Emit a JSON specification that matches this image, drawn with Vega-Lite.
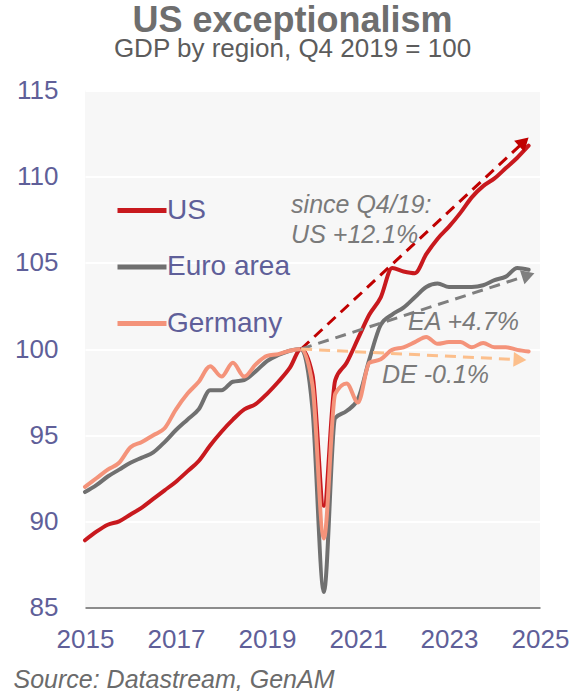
{
  "$schema": "https://vega.github.io/schema/vega-lite/v6.json",
  "width": 455,
  "height": 517,
  "autosize": {"type": "none"},
  "padding": {"left": 85, "top": 90.5, "right": 31, "bottom": 83.5},
  "background": "white",
  "title": {
    "text": "US exceptionalism",
    "subtitle": "GDP by region, Q4 2019 = 100",
    "anchor": "middle",
    "frame": "group",
    "dx": -20,
    "offset": 15,
    "font": "Liberation Sans",
    "fontSize": 36,
    "fontWeight": "bold",
    "color": "#6e6e6e",
    "subtitleFont": "Liberation Sans",
    "subtitleFontSize": 26,
    "subtitleColor": "#5c5c5c",
    "subtitlePadding": -4
  },
  "config": {"view": {"fill": "#f7f7f7", "stroke": null}, "font": "Liberation Sans"},
  "datasets": {
    "gdp": [
      {"series":"US","year":2015.0,"value":88.9},{"series":"US","year":2015.25,"value":89.4},{"series":"US","year":2015.5,"value":89.8},{"series":"US","year":2015.75,"value":90.0},
      {"series":"US","year":2016.0,"value":90.4},{"series":"US","year":2016.25,"value":90.8},{"series":"US","year":2016.5,"value":91.3},{"series":"US","year":2016.75,"value":91.8},
      {"series":"US","year":2017.0,"value":92.3},{"series":"US","year":2017.25,"value":92.9},{"series":"US","year":2017.5,"value":93.5},{"series":"US","year":2017.75,"value":94.4},
      {"series":"US","year":2018.0,"value":95.2},{"series":"US","year":2018.25,"value":95.9},{"series":"US","year":2018.5,"value":96.5},{"series":"US","year":2018.75,"value":96.8},
      {"series":"US","year":2019.0,"value":97.4},{"series":"US","year":2019.25,"value":98.1},{"series":"US","year":2019.5,"value":98.9},{"series":"US","year":2019.75,"value":100.0},
      {"series":"US","year":2020.0,"value":98.5},{"series":"US","year":2020.25,"value":90.9},{"series":"US","year":2020.5,"value":98.2},{"series":"US","year":2020.75,"value":99.2},
      {"series":"US","year":2021.0,"value":100.6},{"series":"US","year":2021.25,"value":102.0},{"series":"US","year":2021.5,"value":103.0},{"series":"US","year":2021.75,"value":104.7},
      {"series":"US","year":2022.0,"value":104.5},{"series":"US","year":2022.25,"value":104.4},{"series":"US","year":2022.5,"value":105.5},{"series":"US","year":2022.75,"value":106.4},
      {"series":"US","year":2023.0,"value":107.1},{"series":"US","year":2023.25,"value":107.9},{"series":"US","year":2023.5,"value":108.8},{"series":"US","year":2023.75,"value":109.45},
      {"series":"US","year":2024.0,"value":109.9},{"series":"US","year":2024.25,"value":110.5},{"series":"US","year":2024.5,"value":111.1},{"series":"US","year":2024.75,"value":111.8},
      {"series":"Euro area","year":2015.0,"value":91.7},{"series":"Euro area","year":2015.25,"value":92.1},{"series":"Euro area","year":2015.5,"value":92.6},{"series":"Euro area","year":2015.75,"value":93.0},
      {"series":"Euro area","year":2016.0,"value":93.4},{"series":"Euro area","year":2016.25,"value":93.7},{"series":"Euro area","year":2016.5,"value":94.0},{"series":"Euro area","year":2016.75,"value":94.6},
      {"series":"Euro area","year":2017.0,"value":95.3},{"series":"Euro area","year":2017.25,"value":95.9},{"series":"Euro area","year":2017.5,"value":96.5},{"series":"Euro area","year":2017.75,"value":97.6},
      {"series":"Euro area","year":2018.0,"value":97.6},{"series":"Euro area","year":2018.25,"value":98.1},{"series":"Euro area","year":2018.5,"value":98.2},{"series":"Euro area","year":2018.75,"value":98.7},
      {"series":"Euro area","year":2019.0,"value":99.3},{"series":"Euro area","year":2019.25,"value":99.65},{"series":"Euro area","year":2019.5,"value":99.9},{"series":"Euro area","year":2019.75,"value":100.0},
      {"series":"Euro area","year":2020.0,"value":96.5},{"series":"Euro area","year":2020.25,"value":85.9},{"series":"Euro area","year":2020.5,"value":96.0},{"series":"Euro area","year":2020.75,"value":96.4},
      {"series":"Euro area","year":2021.0,"value":97.1},{"series":"Euro area","year":2021.25,"value":99.4},{"series":"Euro area","year":2021.5,"value":101.4},{"series":"Euro area","year":2021.75,"value":102.0},
      {"series":"Euro area","year":2022.0,"value":102.4},{"series":"Euro area","year":2022.25,"value":103.0},{"series":"Euro area","year":2022.5,"value":103.6},{"series":"Euro area","year":2022.75,"value":103.8},
      {"series":"Euro area","year":2023.0,"value":103.6},{"series":"Euro area","year":2023.25,"value":103.6},{"series":"Euro area","year":2023.5,"value":103.6},{"series":"Euro area","year":2023.75,"value":103.7},
      {"series":"Euro area","year":2024.0,"value":104.0},{"series":"Euro area","year":2024.25,"value":104.2},{"series":"Euro area","year":2024.5,"value":104.7},{"series":"Euro area","year":2024.75,"value":104.6},
      {"series":"Germany","year":2015.0,"value":92.0},{"series":"Germany","year":2015.25,"value":92.5},{"series":"Germany","year":2015.5,"value":93.0},{"series":"Germany","year":2015.75,"value":93.4},
      {"series":"Germany","year":2016.0,"value":94.3},{"series":"Germany","year":2016.25,"value":94.6},{"series":"Germany","year":2016.5,"value":95.0},{"series":"Germany","year":2016.75,"value":95.4},
      {"series":"Germany","year":2017.0,"value":96.5},{"series":"Germany","year":2017.25,"value":97.4},{"series":"Germany","year":2017.5,"value":98.1},{"series":"Germany","year":2017.75,"value":99.0},
      {"series":"Germany","year":2018.0,"value":98.4},{"series":"Germany","year":2018.25,"value":99.2},{"series":"Germany","year":2018.5,"value":98.4},{"series":"Germany","year":2018.75,"value":99.1},
      {"series":"Germany","year":2019.0,"value":99.6},{"series":"Germany","year":2019.25,"value":99.7},{"series":"Germany","year":2019.5,"value":99.9},{"series":"Germany","year":2019.75,"value":100.0},
      {"series":"Germany","year":2020.0,"value":97.9},{"series":"Germany","year":2020.25,"value":89.0},{"series":"Germany","year":2020.5,"value":97.4},{"series":"Germany","year":2020.75,"value":98.0},
      {"series":"Germany","year":2021.0,"value":96.9},{"series":"Germany","year":2021.25,"value":99.2},{"series":"Germany","year":2021.5,"value":99.4},{"series":"Germany","year":2021.75,"value":99.95},
      {"series":"Germany","year":2022.0,"value":100.1},{"series":"Germany","year":2022.25,"value":100.4},{"series":"Germany","year":2022.5,"value":100.7},{"series":"Germany","year":2022.75,"value":100.3},
      {"series":"Germany","year":2023.0,"value":100.4},{"series":"Germany","year":2023.25,"value":100.4},{"series":"Germany","year":2023.5,"value":100.1},{"series":"Germany","year":2023.75,"value":100.35},
      {"series":"Germany","year":2024.0,"value":100.1},{"series":"Germany","year":2024.25,"value":100.1},{"series":"Germany","year":2024.5,"value":99.95},{"series":"Germany","year":2024.75,"value":99.85}
    ],
    "arrows": [
      {"series":"US","year":2019.75,"value":100,"year2":2024.646,"value2":112.02},
      {"series":"Euro area","year":2019.75,"value":100,"year2":2024.743,"value2":104.28},
      {"series":"Germany","year":2019.75,"value":100,"year2":2024.56,"value2":99.38}
    ],
    "heads": [
      {"series":"US","year":2024.646,"value":112.02},
      {"series":"Euro area","year":2024.743,"value":104.28},
      {"series":"Germany","year":2024.56,"value":99.38}
    ],
    "notes": [
      {"label":"since Q4/19:","year":2019.53,"value":107.9},
      {"label":"US +12.1%","year":2019.53,"value":106.15},
      {"label":"EA +4.7%","year":2022.1,"value":101.1},
      {"label":"DE -0.1%","year":2021.53,"value":98.0}
    ]
  },
  "encoding": {
    "x": {
      "field": "year",
      "type": "quantitative",
      "scale": {"domain": [2015, 2025], "nice": false, "zero": false},
      "axis": {
        "values": [2015, 2017, 2019, 2021, 2023, 2025],
        "format": "d",
        "grid": false,
        "ticks": false,
        "domain": true,
        "domainColor": "#8c8c8c",
        "domainWidth": 2,
        "labelFont": "Liberation Sans",
        "labelFontSize": 26,
        "labelColor": "#5f5f99",
        "labelPadding": 19,
        "labelFlush": false,
        "labelOverlap": false,
        "title": "Source: Datastream, GenAM",
        "titleFont": "Liberation Sans",
        "titleFontSize": 25,
        "titleFontStyle": "italic",
        "titleFontWeight": "normal",
        "titleColor": "#6b6b6b",
        "titleAnchor": "start",
        "titleAlign": "left",
        "titleX": -72,
        "titleY": 79.5,
        "titleBaseline": "alphabetic"
      }
    },
    "y": {
      "field": "value",
      "type": "quantitative",
      "scale": {"domain": [85, 115], "nice": false, "zero": false},
      "axis": {
        "values": [85, 90, 95, 100, 105, 110, 115],
        "grid": true,
        "gridColor": "#ffffff",
        "gridWidth": 2,
        "domain": false,
        "ticks": false,
        "labelFont": "Liberation Sans",
        "labelFontSize": 26,
        "labelColor": "#5f5f99",
        "labelPadding": 27,
        "labelFlush": false,
        "title": null
      }
    }
  },
  "layer": [
    {
      "data": {"name": "gdp"},
      "mark": {"type": "line", "interpolate": "monotone", "strokeWidth": 4, "strokeCap": "round", "strokeJoin": "round"},
      "encoding": {
        "color": {
          "field": "series",
          "type": "nominal",
          "scale": {"domain": ["US", "Euro area", "Germany"], "range": ["#c8191e", "#707070", "#f4937a"]},
          "legend": {
            "orient": "none",
            "legendX": 30,
            "legendY": 93,
            "title": null,
            "direction": "vertical",
            "symbolType": "stroke",
            "symbolSize": 2401,
            "symbolStrokeWidth": 5,
            "labelFont": "Liberation Sans",
            "labelFontSize": 28,
            "labelColor": "#5f5f99",
            "labelOffset": -2,
            "rowPadding": 15.5,
            "padding": 0
          }
        }
      }
    },
    {
      "data": {"name": "arrows"},
      "layer": [
        {
          "transform": [{"filter": "datum.series === 'US'"}],
          "mark": {"type": "rule", "color": "#c00000", "strokeWidth": 3, "strokeDash": [11, 7]},
          "encoding": {"x2": {"field": "year2"}, "y2": {"field": "value2"}}
        },
        {
          "transform": [{"filter": "datum.series === 'Euro area'"}],
          "mark": {"type": "rule", "color": "#7f7f7f", "strokeWidth": 3, "strokeDash": [11, 7]},
          "encoding": {"x2": {"field": "year2"}, "y2": {"field": "value2"}}
        },
        {
          "transform": [{"filter": "datum.series === 'Germany'"}],
          "mark": {"type": "rule", "color": "#fcbf8c", "strokeWidth": 3, "strokeDash": [11, 7]},
          "encoding": {"x2": {"field": "year2"}, "y2": {"field": "value2"}}
        }
      ]
    },
    {
      "data": {"name": "heads"},
      "layer": [
        {
          "transform": [{"filter": "datum.series === 'US'"}],
          "mark": {"type": "point", "shape": "triangle-right", "filled": true, "size": 220, "angle": -42.9, "color": "#c00000", "opacity": 1}
        },
        {
          "transform": [{"filter": "datum.series === 'Euro area'"}],
          "mark": {"type": "point", "shape": "triangle-right", "filled": true, "size": 220, "angle": -18, "color": "#7f7f7f", "opacity": 1}
        },
        {
          "transform": [{"filter": "datum.series === 'Germany'"}],
          "mark": {"type": "point", "shape": "triangle-right", "filled": true, "size": 220, "angle": 2.8, "color": "#fcbf8c", "opacity": 1}
        }
      ]
    },
    {
      "data": {"name": "notes"},
      "mark": {"type": "text", "align": "left", "baseline": "alphabetic", "font": "Liberation Sans", "fontSize": 25, "fontStyle": "italic", "color": "#7a7a7a"},
      "encoding": {"text": {"field": "label", "type": "nominal"}}
    }
  ]
}
